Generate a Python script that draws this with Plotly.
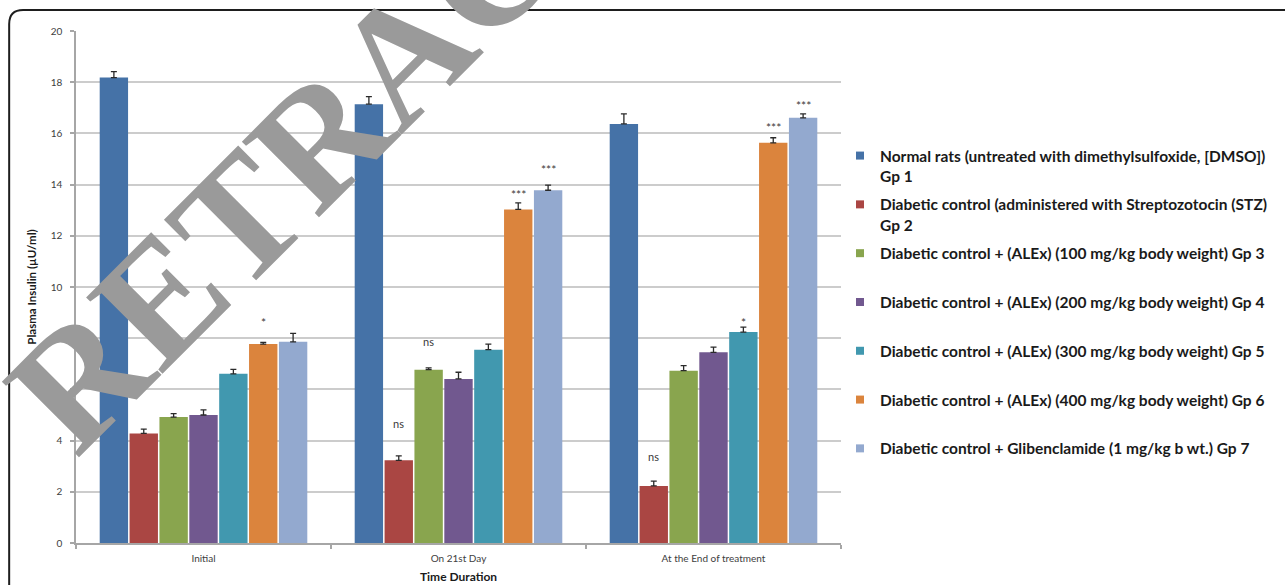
import plotly.graph_objects as go

# ---------------- data ----------------
categories = ["Initial", "On 21st Day", "At the End of treatment"]

series_names = [
    "Normal rats (untreated with dimethylsulfoxide, [DMSO])<br>Gp 1",
    "Diabetic control (administered with Streptozotocin (STZ)<br>Gp 2",
    "Diabetic control + (ALEx) (100 mg/kg body weight) Gp 3",
    "Diabetic control + (ALEx) (200 mg/kg body weight) Gp 4",
    "Diabetic control + (ALEx) (300 mg/kg body weight) Gp 5",
    "Diabetic control + (ALEx) (400 mg/kg body weight) Gp 6",
    "Diabetic control + Glibenclamide (1 mg/kg b wt.) Gp 7",
]

gp1 = [18.18, 17.14, 16.37]
gp2 = [4.28, 3.23, 2.23]
gp3 = [4.92, 6.77, 6.73]
gp4 = [5.00, 6.41, 7.45]
gp5 = [6.61, 7.55, 8.24]
gp6 = [7.77, 13.03, 15.63]
gp7 = [7.86, 13.78, 16.61]

gp1_err = [0.23, 0.30, 0.39]
gp2_err = [0.17, 0.17, 0.19]
gp3_err = [0.13, 0.07, 0.20]
gp4_err = [0.20, 0.26, 0.20]
gp5_err = [0.17, 0.22, 0.19]
gp6_err = [0.07, 0.26, 0.20]
gp7_err = [0.33, 0.20, 0.15]

# significance labels (text and the level at which they sit)
gp1_sig = ["", "", ""]
gp2_sig = ["", "ns", "ns"]
gp3_sig = ["", "ns", ""]
gp4_sig = ["", "", ""]
gp5_sig = ["", "", "*"]
gp6_sig = ["*", "***", "***"]
gp7_sig = ["", "***", "***"]

gp1_sig_y = [None, None, None]
gp2_sig_y = [None, 4.65, 3.37]
gp3_sig_y = [None, 7.89, None]
gp4_sig_y = [None, None, None]
gp5_sig_y = [None, None, 8.74]
gp6_sig_y = [8.75, 13.75, 16.33]
gp7_sig_y = [None, 14.71, 17.21]

y_ticks = [0, 2, 4, 6, 8, 10, 12, 14, 16, 18, 20]

watermark = "RETRACTED"

# ---------------- style ----------------
colors = ["#4572A7", "#AA4643", "#89A54E", "#71588F", "#4198AF", "#DB843D", "#93A9CF"]
values = [gp1, gp2, gp3, gp4, gp5, gp6, gp7]
errors = [gp1_err, gp2_err, gp3_err, gp4_err, gp5_err, gp6_err, gp7_err]
sigs = [gp1_sig, gp2_sig, gp3_sig, gp4_sig, gp5_sig, gp6_sig, gp7_sig]
sig_ys = [gp1_sig_y, gp2_sig_y, gp3_sig_y, gp4_sig_y, gp5_sig_y, gp6_sig_y, gp7_sig_y]

W, H = 1285, 585
ML, MR, MT, MB = 76, 442, 31, 42
PW, PH = W - ML - MR, H - MT - MB
BARGAP, BARGROUPGAP = 0.18, 0.05
FONT = "Lato, 'Open Sans', sans-serif"


def px(x):
    return (x - ML) / PW


def py(y):
    return (H - MB - y) / PH


fig = go.Figure()
n = len(values)
for i in range(n):
    fig.add_trace(go.Bar(
        x=categories, y=values[i], name=series_names[i],
        marker=dict(color=colors[i], line=dict(width=0)),
        error_y=dict(type="data", symmetric=False, array=errors[i],
                     arrayminus=[0] * len(errors[i]),
                     color="#2a2a2a", thickness=1.3, width=3),
        showlegend=False,
    ))

# legend proxies (small square swatches)
for i in range(n):
    label = series_names[i] if "<br>" in series_names[i] else series_names[i] + "<br> "
    fig.add_trace(go.Scatter(
        x=[None], y=[None], mode="markers", name=label,
        marker=dict(symbol="square", size=8, color=colors[i]),
        legendgroup=f"g{i}", showlegend=True,
    ))

# significance annotations positioned over their bar slot
slot = (1 - BARGAP) / n
annotations = []
for i in range(n):
    off = -(1 - BARGAP) / 2 + (i + 0.5) * slot
    for ci in range(len(categories)):
        t = sigs[i][ci]
        if t and sig_ys[i][ci] is not None:
            annotations.append(dict(
                x=ci + off, y=sig_ys[i][ci], xref="x", yref="y",
                text=t, showarrow=False, xanchor="center", yanchor="middle",
                yshift=-3 if "*" in t else 0,
                font=dict(family=FONT, size=12 if "*" in t else 11, color="#3a3a3a"),
            ))

# watermark
annotations.append(dict(
    x=px(404), y=py(54), xref="paper", yref="paper",
    text=watermark, showarrow=False, textangle=-45,
    xanchor="center", yanchor="middle",
    font=dict(family="'Liberation Serif', 'Times New Roman', serif", size=165,
              color="#9a9a9a", weight=700),
))

border_path = (f"M {px(9)},{py(700)} L {px(9)},{py(24)} "
               f"Q {px(9)},{py(10)} {px(23)},{py(10)} L {px(1400)},{py(10)}")

fig.update_layout(
    width=W, height=H, autosize=False,
    margin=dict(l=ML, r=MR, t=MT, b=MB, pad=0),
    paper_bgcolor="white", plot_bgcolor="white",
    barmode="group", bargap=BARGAP, bargroupgap=BARGROUPGAP,
    font=dict(family=FONT, color="#333333"),
    shapes=[dict(type="path", xref="paper", yref="paper", path=border_path,
                 line=dict(color="#1e1e1e", width=2), layer="above")],
    annotations=annotations,
    legend=dict(
        x=px(842), y=py(139), xanchor="left", yanchor="top",
        font=dict(family=FONT, size=15.5, color="#1a1a1a", weight=700),
        valign="top", traceorder="grouped", tracegroupgap=5.5,
        bgcolor="rgba(0,0,0,0)", itemwidth=30,
    ),
    xaxis=dict(
        type="category", showgrid=False, showline=True, linecolor="#a6a6a6", linewidth=1.5,
        ticks="outside", tickson="boundaries", ticklen=4, tickcolor="#a6a6a6", tickwidth=1.5,
        ticklabelstandoff=5, automargin=False,
        tickfont=dict(family=FONT, size=10, color="#404040"),
        title=dict(text="<b>Time Duration</b>", font=dict(family=FONT, size=12, color="#1a1a1a"), standoff=10),
    ),
    yaxis=dict(
        range=[0, 20], tickvals=y_ticks, showgrid=True, gridcolor="#cccccc", gridwidth=1.5,
        showline=True, linecolor="#a6a6a6", linewidth=1.5, zeroline=False,
        ticks="outside", ticklen=4, tickcolor="#a6a6a6", tickwidth=1.5,
        ticklabelstandoff=6, automargin=False,
        tickfont=dict(family=FONT, size=10, color="#404040"),
        title=dict(text="<b>Plasma Insulin (µU/ml)</b>", font=dict(family=FONT, size=11.5, color="#1a1a1a"), standoff=12),
    ),
)

fig.write_html("out.html", config={"displayModeBar": False},
               post_script="document.body.style.margin='0';document.body.style.overflow='hidden';")
